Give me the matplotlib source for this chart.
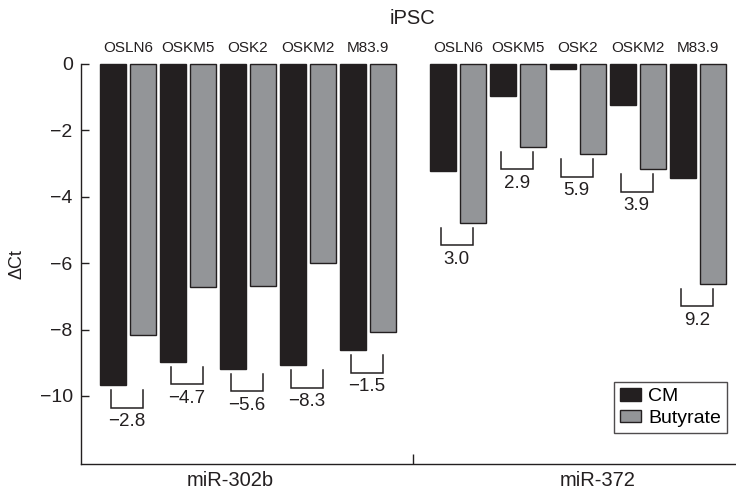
import numpy as np
import matplotlib
matplotlib.use('Agg')
import matplotlib.pyplot as plt
from matplotlib.patches import Patch

plt.rcParams['font.family'] = ['Liberation Sans', 'DejaVu Sans']

clones = ['OSLN6', 'OSKM5', 'OSK2', 'OSKM2', 'M83.9']
genes = ['miR-302b', 'miR-372']
mir302b_cm = [-9.67, -8.97, -9.18, -9.07, -8.63]
mir302b_but = [-8.16, -6.71, -6.70, -6.00, -8.07]
mir372_cm = [-3.22, -0.95, -0.16, -1.23, -3.42]
mir372_but = [-4.78, -2.49, -2.71, -3.17, -6.62]
fold_302b = ['\u22122.8', '\u22124.7', '\u22125.6', '\u22128.3', '\u22121.5']
fold_372 = ['3.0', '2.9', '5.9', '3.9', '9.2']

dark = '#231f20'
grey = '#939598'

fig = plt.figure(figsize=(7.36, 4.95), dpi=100)
ax = fig.add_axes([81 / 736, 31 / 495, 655 / 736, 400 / 495])

ymin = -12.05
w = 0.88

groups = [(0, mir302b_cm, mir302b_but, fold_302b),
          (11, mir372_cm, mir372_but, fold_372)]

for start, cm, but, folds in groups:
    xc = start + 2 * np.arange(len(clones))
    xb = xc + 1
    ax.bar(xc, cm, width=w, color=dark, edgecolor=dark, linewidth=1, clip_on=False)
    ax.bar(xb, but, width=w, color=grey, edgecolor=dark, linewidth=1, clip_on=False)
    for i in range(len(clones)):
        top = min(cm[i], but[i]) - 0.15
        bot = top - 0.53
        x0, x1 = xc[i] - 0.08, xb[i]
        ax.plot([x0, x0, x1, x1], [top, bot, bot, top], color=dark, lw=1.1,
                solid_joinstyle='miter')
        ax.text((x0 + x1) / 2, bot - 0.42, folds[i], ha='center', va='center',
                fontsize=13.5, color=dark)
        ax.text((xc[i] + xb[i]) / 2, 1.04, clones[i], ha='center', va='center',
                fontsize=11, color=dark, transform=ax.get_xaxis_transform())

ax.text(10, 1.115, 'iPSC', ha='center', va='center', fontsize=14.5, color=dark,
        transform=ax.get_xaxis_transform())
ax.text(3.92, -0.04, genes[0], ha='center', va='center', fontsize=14.5, color=dark,
        transform=ax.get_xaxis_transform())
ax.text(16.17, -0.04, genes[1], ha='center', va='center', fontsize=14.5, color=dark,
        transform=ax.get_xaxis_transform())

ax.set_xlim(-1.067, 20.77)
ax.set_ylim(ymin, 0)
ax.set_yticks([0, -2, -4, -6, -8, -10])
ax.set_yticklabels(['0', '\u22122', '\u22124', '\u22126', '\u22128', '\u221210'])
ax.tick_params(axis='y', direction='in', length=6, width=1, pad=6, labelsize=14,
               colors=dark)
ax.set_xticks([10])
ax.set_xticklabels([])
ax.tick_params(axis='x', direction='in', length=7, width=1, colors=dark)
ax.set_ylabel('\u0394Ct', fontsize=13, color=dark)
ax.yaxis.set_label_coords(-0.085, 0.5)

for s in ['top', 'right']:
    ax.spines[s].set_visible(False)
for s in ['left', 'bottom']:
    ax.spines[s].set_linewidth(1)
    ax.spines[s].set_color(dark)

handles = [Patch(facecolor=dark, edgecolor=dark, label='CM'),
           Patch(facecolor=grey, edgecolor=dark, label='Butyrate')]
leg = ax.legend(handles=handles, loc='lower right', bbox_to_anchor=(0.986, 0.0775),
                borderaxespad=0, fontsize=14, frameon=True, fancybox=False,
                handlelength=1.1, handleheight=0.6, handletextpad=0.35,
                labelspacing=0.25, borderpad=0.3)
leg.get_frame().set_edgecolor(dark)
leg.get_frame().set_linewidth(1)

fig.savefig('out.png', dpi=100)
